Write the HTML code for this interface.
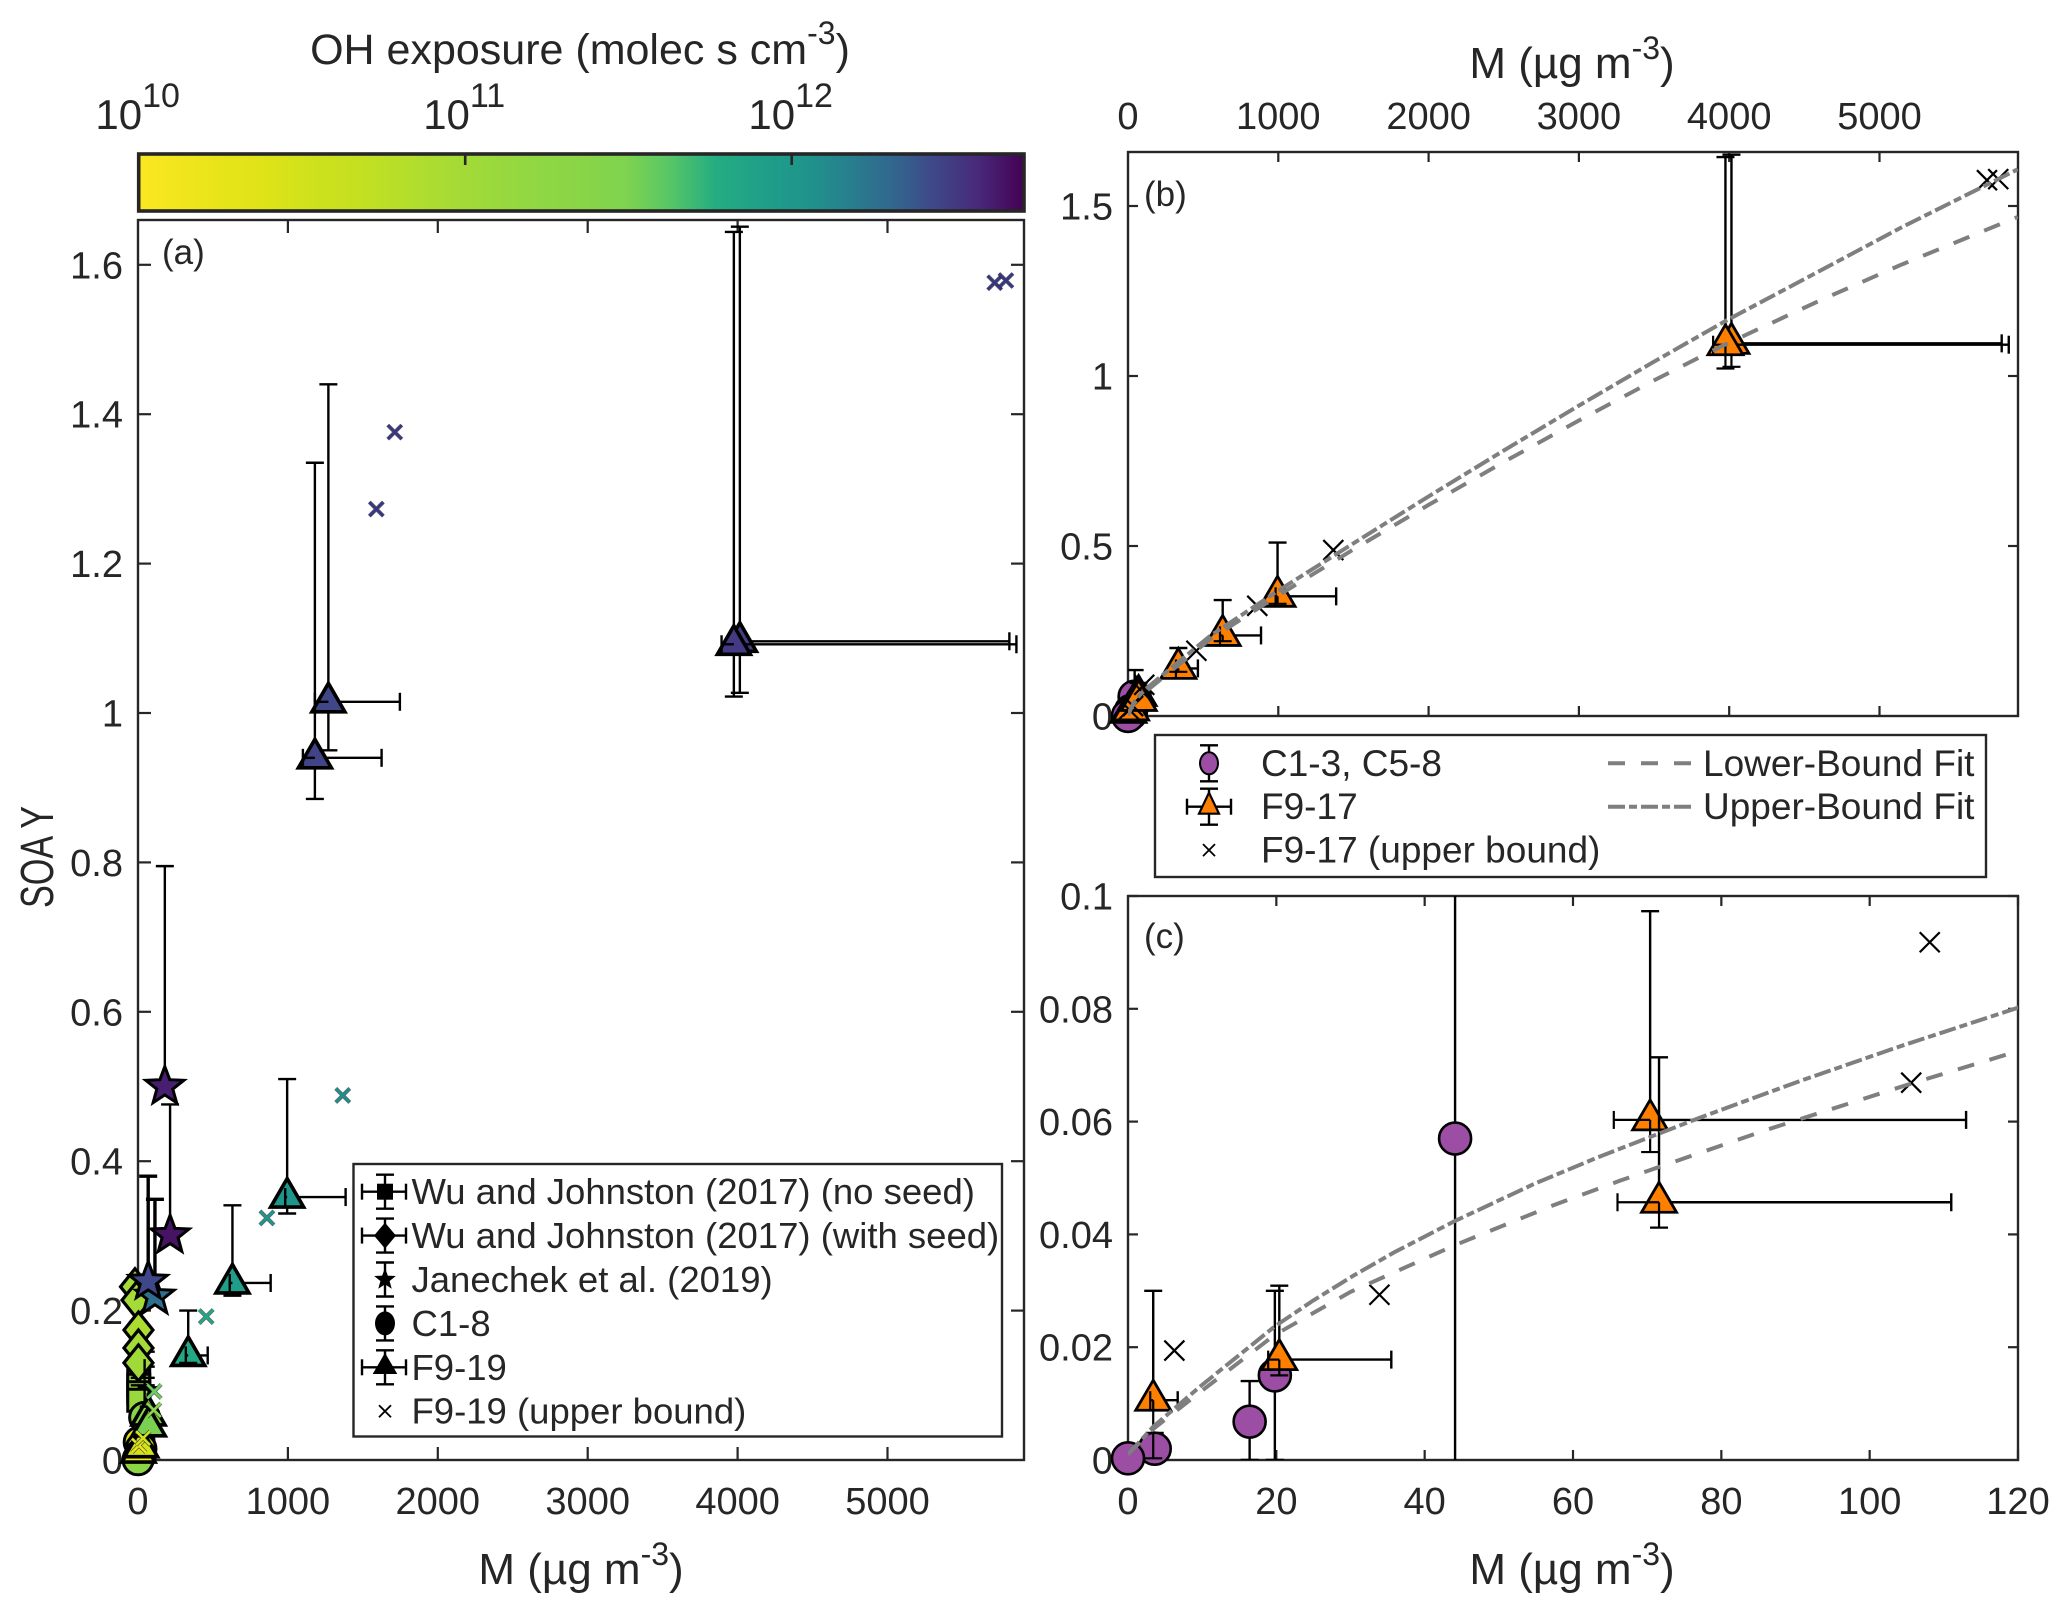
<!DOCTYPE html>
<html lang="en">
<head>
<meta charset="utf-8">
<title>SOA yield versus organic mass</title>
<style>
html,body{margin:0;padding:0;background:#fff;}
svg{display:block;}
text{font-family:"Liberation Sans",sans-serif;fill:#262626;}
</style>
</head>
<body>
<svg id="figure" xmlns="http://www.w3.org/2000/svg" width="2067" height="1606" viewBox="0 0 2067 1606">
<rect width="2067" height="1606" fill="#fff"/>
<defs>
<linearGradient id="cbGrad" x1="0" x2="1" y1="0" y2="0"></linearGradient>
<clipPath id="clipB"><rect x="1128" y="152" width="890" height="564"/></clipPath>
<clipPath id="clipC"><rect x="1128" y="896" width="890" height="564"/></clipPath>
</defs>
<text x="580" y="64" font-size="43" text-anchor="middle">OH exposure (molec s cm<tspan dy="-20" font-size="32">-3</tspan><tspan dy="20">)</tspan></text>
<text transform="translate(53,857) rotate(-90)" font-size="46" text-anchor="middle" textLength="102" lengthAdjust="spacingAndGlyphs">SOA Y</text>
<text x="581" y="1584" font-size="44" text-anchor="middle">M (µg m<tspan dy="-19" font-size="32">-3</tspan><tspan dy="19">)</tspan></text>
<text x="1572" y="78" font-size="44" text-anchor="middle">M (µg m<tspan dy="-19" font-size="32">-3</tspan><tspan dy="19">)</tspan></text>
<text x="1572" y="1584" font-size="44" text-anchor="middle">M (µg m<tspan dy="-19" font-size="32">-3</tspan><tspan dy="19">)</tspan></text>
<g id="root"></g>
</svg>
<script>
// ---------- Data ----------
const colorbarColors = ['#fbe723','#f0e51c','#e6e419','#dde318','#cde11d','#c4e021','#b5de2b','#a8db34','#9bd93c','#90d743','#89d548','#7fd34e','#57c666','#26ad81','#1fa088','#1f968b','#27808e','#31688e','#3f4788','#482878','#440154'];
const colorbarTicks = [10, 11, 12];

const aXTicks = [0, 1000, 2000, 3000, 4000, 5000];
const aYTicks = [0, 0.2, 0.4, 0.6, 0.8, 1, 1.2, 1.4, 1.6];
const bXTicks = [0, 1000, 2000, 3000, 4000, 5000];
const bYTicks = [0, 0.5, 1, 1.5];
const cXTicks = [0, 20, 40, 60, 80, 100, 120];
const cYTicks = [0, 0.02, 0.04, 0.06, 0.08, 0.1];

// F9-17 experiments
const f917M   = [3.4, 20.4, 70.4, 71.6, 335, 630, 995, 4015, 3975];
const f917Y   = [0.0106, 0.0178, 0.0603, 0.0457, 0.14, 0.237, 0.352, 1.096, 1.092];
const f917Xlo = [3, 18.9, 65.5, 66, 319, 612, 982, 3950, 3893];
const f917Xhi = [6.7, 35.5, 113, 111, 465, 885, 1385, 5813, 5860];
const f917Ylo = [0.0003, 0.015, 0.0546, 0.0412, 0.13, 0.22, 0.33, 1.027, 1.022];
const f917Yhi = [0.03, 0.0309, 0.0973, 0.0714, 0.2, 0.341, 0.51, 1.651, 1.644];
const f917Color = ['#f1e51d','#d2e21b','#86d549','#7ad151','#22a884','#1f9e89','#1f968b','#433e85','#443983'];
// F18-19 experiments (panel a only)
const f1819M   = [1180, 1270];
const f1819Y   = [0.94, 1.015];
const f1819Xlo = [1100, 1180];
const f1819Xhi = [1625, 1747];
const f1819Ylo = [0.885, 0.95];
const f1819Yhi = [1.335, 1.44];
const f1819Color = ['#414487','#404688'];
// upper-bound crosses
const ubM = [6.25, 33.9, 105.6, 108.1, 455, 860, 1366, 5715, 5790];
const ubY = [0.0194, 0.0293, 0.0669, 0.0918, 0.192, 0.324, 0.488, 1.576, 1.579];
const ubColor = ['#f1e51d','#d2e21b','#8ed645','#6ece58','#22a884','#1f968b','#1f8f8c','#3b3580','#3b3580'];
const ub1819M = [1590, 1713];
const ub1819Y = [1.273, 1.376];
const ub1819Color = ['#3b3580','#3b3580'];
// Chamber experiments
const cM   = [44.1, 19.8, 16.4, 3.6, 0];
const cY   = [0.057, 0.015, 0.0068, 0.002, 0.0003];
const cYlo = [-0.01, 0, 0, 0, 0];
const cYhi = [0.135, 0.03, 0.014, 0.0048, 0.0028];
const cColor = ['#86d549','#bddf26','#d0e11c','#e7e419','#8cd646'];
const c4M = [8];
const c4Y = [0.024];
const c4Color = ['#dde318'];
// Wu and Johnston (2017)
const wuNoSeedM = [5, 5, 5, 5];
const wuNoSeedY = [0.115, 0.1, 0.09, 0.08];
const wuNoSeedXhi = [70, 75, 70, 65];
const wuNoSeedYhi = [0.145, 0.125, 0.11, 0.1];
const wuSeedM = [-20, -10, 3, 3, 3];
const wuSeedY = [0.232, 0.214, 0.174, 0.15, 0.13];
const wuSeedColor = ['#a5db36','#a5db36','#addc30','#a5db36','#a0da39'];
// Janechek et al. (2019)
const janM = [179, 214, 113, 68];
const janY = [0.5, 0.301, 0.219, 0.239];
const janYhi = [0.795, 0.476, 0.349, 0.38];
const janColor = ['#481f70','#471365','#2e6e8e','#3f4788'];
// Fits
const lowerFitM = [0, 3.4, 9.7, 19.8, 30, 44.1, 57.4, 66.3, 70.4, 86, 105.5, 118, 120, 545, 990, 1500, 2000, 2500, 3000, 3500, 3940, 4604, 5137, 5920];
const lowerFitY = [0.001, 0.0055, 0.012, 0.0222, 0.0298, 0.0381, 0.0452, 0.0495, 0.0514, 0.0585, 0.0667, 0.0717, 0.0725, 0.225, 0.352, 0.49, 0.621, 0.747, 0.869, 0.987, 1.086, 1.222, 1.326, 1.468];
const upperFitM = [0, 3.4, 9.7, 19.8, 25, 30.4, 36, 44.1, 55, 63.6, 77.1, 90.6, 104, 119.8, 120, 545, 990, 1500, 2000, 2500, 3000, 3500, 3976, 4500, 5137, 5920];
const upperFitY = [0.001, 0.0059, 0.013, 0.0237, 0.0283, 0.0327, 0.0369, 0.0424, 0.0491, 0.0538, 0.0607, 0.0672, 0.0733, 0.0801, 0.0802, 0.235, 0.366, 0.508, 0.646, 0.781, 0.913, 1.042, 1.162, 1.285, 1.435, 1.608];
const legendALabels = ['Wu and Johnston (2017) (no seed)','Wu and Johnston (2017) (with seed)','Janechek et al. (2019)','C1-8','F9-19','F9-19 (upper bound)'];
const legendBLabels = ['C1-3, C5-8','F9-17','F9-17 (upper bound)'];
const legendBFitLabels = ['Lower-Bound Fit','Upper-Bound Fit'];

// ---------- Axis functions ----------
const panelA = {l:138, r:1024, t:220, b:1460};
const panelB = {l:1128, r:2018, t:152, b:716};
const panelC = {l:1128, r:2018, t:896, b:1460};
const xA = v => panelA.l + v * 0.1499;
const yA = v => panelA.b - v * 747;
const xB = v => panelB.l + v * 0.1503;
const yB = v => panelB.b - v * 340;
const xC = v => panelC.l + v * 7.4167;
const yC = v => panelC.b - v * 5640;
const xCb = e => 138.7 + (e - 10) * 326.5;

const NS = 'http://www.w3.org/2000/svg';
const INK = '#262626';
const root = document.getElementById('root');

function mk(parent, tag, attrs, txt) {
  const e = document.createElementNS(NS, tag);
  for (const k in attrs) e.setAttribute(k, attrs[k]);
  if (txt !== undefined) e.textContent = txt;
  parent.appendChild(e);
  return e;
}
function group(parent, clip) {
  const g = mk(parent, 'g', clip ? {'clip-path': 'url(#' + clip + ')'} : {});
  return g;
}
function seg(g, x1, y1, x2, y2, w, c) {
  return mk(g, 'line', {x1, y1, x2, y2, stroke: c || '#000', 'stroke-width': w});
}
function starPts(cx, cy, R) {
  const pts = [];
  for (let i = 0; i < 10; i++) {
    const r = i % 2 ? R * 0.42 : R;
    const a = -Math.PI / 2 + i * Math.PI / 5;
    pts.push((cx + r * Math.cos(a)).toFixed(1) + ',' + (cy + r * Math.sin(a)).toFixed(1));
  }
  return pts.join(' ');
}
function triangle(g, cx, cy, hw, up, dn, fill, sw) {
  return mk(g, 'polygon', {points: (cx) + ',' + (cy - up) + ' ' + (cx + hw) + ',' + (cy + dn) + ' ' + (cx - hw) + ',' + (cy + dn), fill, stroke: '#000', 'stroke-width': sw, 'stroke-linejoin': 'miter'});
}
function cross(g, cx, cy, h, c, w) {
  const p = mk(g, 'path', {d: 'M' + (cx - h) + ' ' + (cy - h) + 'L' + (cx + h) + ' ' + (cy + h) + 'M' + (cx - h) + ' ' + (cy + h) + 'L' + (cx + h) + ' ' + (cy - h), stroke: c, 'stroke-width': w, fill: 'none'});
  return p;
}
function drawAxes(p, name, xT, yT, xs, ys, tick, xLab, yLab, xLabelY) {
  const g = group(root);
  
  
  mk(g, 'rect', {x: p.l, y: p.t, width: p.r - p.l, height: p.b - p.t, fill: 'none', stroke: INK, 'stroke-width': 2.4});
  xT.forEach((v, i) => {
    const x = xs(v);
    if (i > 0) {
      seg(g, x, p.b, x, p.b - tick, 2.2, INK);
      seg(g, x, p.t, x, p.t + tick, 2.2, INK);
    }
    const t = mk(g, 'text', {x: x, y: xLabelY, 'font-size': 38, 'text-anchor': 'middle'}, xLab(v));
    
    
  });
  yT.forEach((v, i) => {
    const y = ys(v);
    if (i > 0) {
      seg(g, p.l, y, p.l + tick, y, 2.2, INK);
      seg(g, p.r, y, p.r - tick, y, 2.2, INK);
    }
    const t = mk(g, 'text', {x: p.l - 15, y: y + 13.5, 'font-size': 38, 'text-anchor': 'end'}, yLab(v));
    
    
  });
}

// ---------- Colorbar ----------
const grad = document.getElementById('cbGrad');
colorbarColors.forEach((c, i) => {
  mk(grad, 'stop', {offset: i / (colorbarColors.length - 1), 'stop-color': c});
});
const cb = group(root);


mk(cb, 'rect', {x: 138.7, y: 154, width: 885.3, height: 57, fill: 'url(#cbGrad)', stroke: INK, 'stroke-width': 3.6});
colorbarTicks.forEach(e => {
  const x = xCb(e);
  if (e > 10) seg(cb, x, 154, x, 165, 2.6, INK);
  const t = mk(cb, 'text', {x: x - 1, y: 129, 'font-size': 42, 'text-anchor': 'middle'});
  
  
  mk(t, 'tspan', {}, '10');
  mk(t, 'tspan', {dy: -22, 'font-size': 34}, String(e));
});

// ---------- Axes ----------
const fmt = v => String(v);
drawAxes(panelA, 'panel-a', aXTicks, aYTicks, xA, yA, 13, fmt, fmt, 1514);
drawAxes(panelB, 'panel-b', bXTicks, bYTicks, xB, yB, 10, fmt, fmt, 129);
drawAxes(panelC, 'panel-c', cXTicks, cYTicks, xC, yC, 10, fmt, fmt, 1514);

const lblA = mk(root, 'text', {x: 162, y: 264, 'font-size': 35}, '(a)');


const lblB = mk(root, 'text', {x: 1144, y: 206, 'font-size': 35}, '(b)');


const lblC = mk(root, 'text', {x: 1144, y: 948, 'font-size': 35}, '(c)');



// ---------- Shared helpers ----------
function errV(g, x, ys, c, hi, w, cap) {
  seg(g, x, ys(c), x, ys(hi), w);
  seg(g, x - cap, ys(hi), x + cap, ys(hi), w);
}
function lowCaps(g, xs, ys, m, yv, xlo, ylo, w, cap) {
  const x = xs(m), y = ys(yv);
  seg(g, xs(xlo), y, x, y, w);
  seg(g, xs(xlo), y - cap, xs(xlo), y + cap, w);
  seg(g, x, y, x, ys(ylo), w);
  seg(g, x - cap, ys(ylo), x + cap, ys(ylo), w);
}

// ---------- Panel A ----------
const gA = group(root);



wuNoSeedM.forEach((m, i) => {
  const x = xA(m), y = yA(wuNoSeedY[i]);
  seg(gA, x, y, xA(wuNoSeedXhi[i]), y, 2.4);
  seg(gA, x, y, x, yA(wuNoSeedYhi[i]), 2.4);
  const s = mk(gA, 'rect', {x: x - 11, y: y - 11, width: 22, height: 22, fill: '#97d83f', stroke: '#000', 'stroke-width': 3});
  
  
  seg(gA, xA(wuNoSeedXhi[i]), y - 7, xA(wuNoSeedXhi[i]), y + 7, 2.4);
  seg(gA, x - 8, yA(wuNoSeedYhi[i]), x + 16, yA(wuNoSeedYhi[i]), 2.4);
});
wuSeedM.forEach((m, i) => {
  const x = xA(m), y = yA(wuSeedY[i]);
  const d = mk(gA, 'polygon', {points: x + ',' + (y - 18) + ' ' + (x + 14.5) + ',' + y + ' ' + x + ',' + (y + 18) + ' ' + (x - 14.5) + ',' + y, fill: wuSeedColor[i], stroke: '#000', 'stroke-width': 3.2});
  
  
});
janM.forEach((m, i) => {
  errV(gA, xA(m), yA, janY[i], janYhi[i], i >= 2 ? 3.4 : 2.4, 9);
});
janM.forEach((m, i) => {
  const s = mk(gA, 'polygon', {points: starPts(xA(m), yA(janY[i]), 20), fill: janColor[i], stroke: '#000', 'stroke-width': 3});
  
  
});
c4M.forEach((m, i) => {
  const c = mk(gA, 'circle', {cx: xA(m), cy: yA(c4Y[i]), r: 15, fill: c4Color[i], stroke: '#000', 'stroke-width': 3});
  
  
});
cM.forEach((m, i) => {
  const x = xA(m);
  seg(gA, x, yA(cY[i]), x, yA(cYhi[i]), 2.4);
  const c = mk(gA, 'circle', {cx: x, cy: yA(cY[i]), r: 15, fill: cColor[i], stroke: '#000', 'stroke-width': 3});
  
  
});
function triA(m, yv, xlo, xhi, ylo, yhi, col) {
  const x = xA(m), y = yA(yv);
  seg(gA, x, y, xA(xhi), y, 2.4);
  seg(gA, xA(xhi), y - 9, xA(xhi), y + 9, 2.4);
  seg(gA, x, y, x, yA(yhi), 2.4);
  seg(gA, x - 9, yA(yhi), x + 9, yA(yhi), 2.4);
  if (m < 100) {
    lowCaps(gA, xA, yA, m, yv, xlo, ylo, 2.2, 7);
  }
  const t = triangle(gA, x, y, 16.5, 18.5, 10, col, 3.6);
  
  
  if (m >= 100) {
    seg(gA, xA(xlo), y, x, y, 2.4);
    seg(gA, xA(xlo), y - 9, xA(xlo), y + 9, 2.4);
    seg(gA, x, y + 9, x, yA(ylo), 2.4);
    seg(gA, x - 9, yA(ylo), x + 9, yA(ylo), 2.4);
  }
}
f1819M.forEach((m, i) => triA(m, f1819Y[i], f1819Xlo[i], f1819Xhi[i], f1819Ylo[i], f1819Yhi[i], f1819Color[i]));
f917M.forEach((m, i) => triA(m, f917Y[i], f917Xlo[i], f917Xhi[i], f917Ylo[i], f917Yhi[i], f917Color[i]));
function crossA(m, yv, col) {
  const dark = cross(gA, xA(m), yA(yv), 7, '#123', 4);
  dark.setAttribute('stroke-opacity', '0.7');
  
  
  const c = cross(gA, xA(m), yA(yv), 7, col, 2.6);
  
  
}
ub1819M.forEach((m, i) => crossA(m, ub1819Y[i], ub1819Color[i]));
ubM.forEach((m, i) => crossA(m, ubY[i], ubColor[i]));

// Legend A
const legA = group(root);


mk(legA, 'rect', {x: 353.5, y: 1164, width: 648.5, height: 272.5, fill: '#fff', stroke: INK, 'stroke-width': 2.4});
legendALabels.forEach((lab, i) => {
  const y = 1191.7 + i * 43.9, x = 385;
  const hasX = i === 0 || i === 1 || i === 4;
  if (i < 5) {
    seg(legA, x, y - 17, x, y + 17, 2.4);
    seg(legA, x - 9, y - 17, x + 9, y - 17, 2.4);
    seg(legA, x - 9, y + 17, x + 9, y + 17, 2.4);
  }
  if (hasX) {
    seg(legA, x - 23, y, x + 21, y, 2.4);
    seg(legA, x - 23, y - 8, x - 23, y + 8, 2.4);
    seg(legA, x + 21, y - 8, x + 21, y + 8, 2.4);
  }
  if (i === 0) mk(legA, 'rect', {x: x - 8, y: y - 8, width: 16, height: 16, fill: '#000'});
  if (i === 1) mk(legA, 'polygon', {points: x + ',' + (y - 13) + ' ' + (x + 11) + ',' + y + ' ' + x + ',' + (y + 13) + ' ' + (x - 11) + ',' + y, fill: '#000'});
  if (i === 2) mk(legA, 'polygon', {points: starPts(x, y, 10), fill: '#000', stroke: '#000', 'stroke-width': 1});
  if (i === 3) mk(legA, 'ellipse', {cx: x, cy: y, rx: 10, ry: 12, fill: '#000'});
  if (i === 4) triangle(legA, x, y, 11, 13, 6, '#000', 1.5);
  if (i === 5) cross(legA, x, y, 6, '#000', 1.8);
  const t = mk(legA, 'text', {x: 411.5, y: y + 12.5, 'font-size': 36.5}, lab);
  
  
});

// ---------- Panels B and C ----------
function drawPanel(name, p, xs, ys, clip, maxM, maxY) {
  const inR = (m, y) => m <= maxM && y <= maxY;
  const g = group(root);
  
  
  const clipped = group(g, clip);
  const open = group(g);
  cM.forEach((m, i) => {
    const x = xs(m);
    seg(clipped, x, ys(cYlo[i]), x, ys(cYhi[i]), 2.4);
    seg(clipped, x - 9, ys(cYhi[i]), x + 9, ys(cYhi[i]), 2.4);
    seg(clipped, x - 9, ys(cYlo[i]), x + 9, ys(cYlo[i]), 2.4);
    if (inR(m, cY[i])) {
      const c = mk(open, 'circle', {cx: x, cy: ys(cY[i]), r: 16, fill: '#9b4ea3', stroke: '#000', 'stroke-width': 2.6});
      
      
    }
  });
  const tris = group(g);
  f917M.forEach((m, i) => {
    const y = ys(f917Y[i]), x = xs(m);
    if (m > maxM * 1.2) return;
    seg(tris, x, y, xs(f917Xhi[i]), y, 2.4);
    seg(tris, xs(f917Xhi[i]), y - 9, xs(f917Xhi[i]), y + 9, 2.4);
    seg(tris, x, y, x, ys(f917Yhi[i]), 2.4);
    seg(tris, x - 9, ys(f917Yhi[i]), x + 9, ys(f917Yhi[i]), 2.4);
    const behind = name === 'panel-b' && m < 100;
    if (behind) lowCaps(tris, xs, ys, m, f917Y[i], f917Xlo[i], f917Ylo[i], 2.2, 9);
    const t = triangle(tris, x, y, 17.5, 20, 10, '#ff8000', 2.8);
    
    
    if (!behind) lowCaps(tris, xs, ys, m, f917Y[i], f917Xlo[i], f917Ylo[i], 2.2, 9);
  });
  const crosses = group(g);
  ubM.forEach((m, i) => {
    if (!inR(m, ubY[i])) return;
    const c = cross(crosses, xs(m), ys(ubY[i]), 10, '#000', 2.2);
    
    
  });
  const fits = group(g, clip);
  const lowerPts = lowerFitM.map((m, i) => xs(m).toFixed(1) + ',' + ys(lowerFitY[i]).toFixed(1)).join(' ');
  const upperPts = upperFitM.map((m, i) => xs(m).toFixed(1) + ',' + ys(upperFitY[i]).toFixed(1)).join(' ');
  const lo = mk(fits, 'polyline', {points: lowerPts, fill: 'none', stroke: '#7f7f7f', 'stroke-width': 4, 'stroke-dasharray': '17 16'});
  
  
  const up = mk(fits, 'polyline', {points: upperPts, fill: 'none', stroke: '#7f7f7f', 'stroke-width': 4, 'stroke-dasharray': '17 4 8 4'});
  
  
}
drawPanel('panel-b', panelB, xB, yB, 'clipB', 5920, 1.66);
drawPanel('panel-c', panelC, xC, yC, 'clipC', 120, 0.1);

// Legend B
const legB = group(root);


mk(legB, 'rect', {x: 1155, y: 735, width: 831, height: 142, fill: '#fff', stroke: INK, 'stroke-width': 2.4});
legendBLabels.forEach((lab, i) => {
  const y = 763.3 + i * 43.4, x = 1209;
  if (i < 2) {
    seg(legB, x, y - 18, x, y + 18, 2.4);
    seg(legB, x - 9, y - 18, x + 9, y - 18, 2.4);
    seg(legB, x - 9, y + 18, x + 9, y + 18, 2.4);
  }
  if (i === 0) mk(legB, 'ellipse', {cx: x, cy: y, rx: 9, ry: 11, fill: '#9b4ea3', stroke: '#000', 'stroke-width': 2});
  if (i === 1) {
    seg(legB, x - 22, y, x + 22, y, 2.4);
    seg(legB, x - 22, y - 8, x - 22, y + 8, 2.4);
    seg(legB, x + 22, y - 8, x + 22, y + 8, 2.4);
    triangle(legB, x, y, 10, 14, 7, '#ff8000', 2.2);
  }
  if (i === 2) cross(legB, x, y, 6, '#000', 1.8);
  const t = mk(legB, 'text', {x: 1261, y: y + 12.5, 'font-size': 37}, lab);
  
  
});
legendBFitLabels.forEach((lab, i) => {
  const y = 763.3 + i * 43.4;
  mk(legB, 'line', {x1: 1608, y1: y, x2: 1692, y2: y, stroke: '#7f7f7f', 'stroke-width': 4, 'stroke-dasharray': i === 0 ? '17 16' : '17 4 8 4'});
  const t = mk(legB, 'text', {x: 1703, y: y + 12.5, 'font-size': 37}, lab);
  
  
});
</script>
</body>
</html>
